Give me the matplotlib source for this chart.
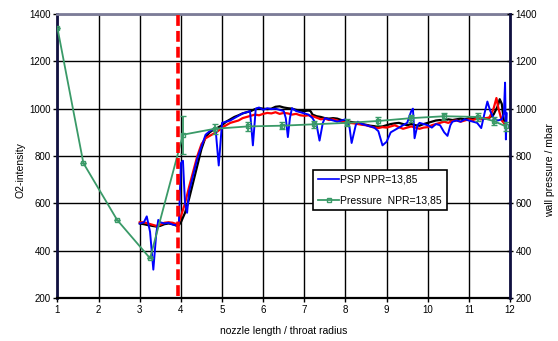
import matplotlib.pyplot as plt
from matplotlib.lines import Line2D

plt.rcParams['font.family'] = ['Liberation Sans', 'DejaVu Sans']

# pressure taps (wall pressure / mbar)
p_x = [1.0, 1.63, 2.45, 3.25, 4.05, 4.82, 5.63, 6.45, 7.23, 8.03, 8.8, 9.6, 10.4, 11.23, 11.6, 11.9]
p_y = [1340, 770, 530, 368, 890, 915, 925, 928, 934, 940, 948, 960, 968, 965, 948, 925]
p_err = [0, 0, 0, 0, 80, 20, 18, 15, 15, 15, 15, 15, 15, 15, 15, 20]

# PSP NPR=13,85 (blue)
psp_x = [3.0, 3.1, 3.17, 3.25, 3.33, 3.4, 3.45, 3.5, 3.6, 3.7, 3.8, 3.9, 3.95, 4.0, 4.05, 4.1,
         4.15, 4.2, 4.3, 4.4, 4.5, 4.6, 4.7, 4.8, 4.85, 4.92, 5.0, 5.1, 5.2, 5.3, 5.4, 5.5,
         5.6, 5.68, 5.75, 5.82, 5.9, 6.0, 6.1, 6.2, 6.3, 6.4, 6.5, 6.55, 6.6, 6.65, 6.7, 6.8,
         6.9, 7.0, 7.1, 7.2, 7.3, 7.37, 7.45, 7.5, 7.6, 7.7, 7.8, 7.9, 8.0, 8.1, 8.15, 8.25,
         8.3, 8.4, 8.5, 8.6, 8.7, 8.8, 8.9, 9.0, 9.1, 9.2, 9.3, 9.4, 9.5, 9.6, 9.64, 9.68,
         9.75, 9.8, 9.9, 10.0, 10.1, 10.2, 10.3, 10.4, 10.48, 10.55, 10.6, 10.7, 10.8, 10.9, 11.0, 11.1,
         11.2, 11.3, 11.38, 11.45, 11.52, 11.6, 11.7, 11.8, 11.85, 11.88, 11.9, 11.92]
psp_y = [515, 520, 545, 480, 320, 470, 530, 520, 515, 518, 510, 508, 510, 770, 780, 600,
         560, 650, 720, 790, 840, 890, 905, 915, 900, 760, 940, 945, 950, 960, 970, 980,
         985, 990, 845, 1000, 1005, 995, 1002, 998, 1000, 995, 990, 960, 880, 960, 1002, 990,
         985, 980, 975, 960, 930, 865, 940, 960, 955, 950, 945, 950, 955, 920, 855, 930,
         945, 935, 930, 925, 920, 905, 845, 860, 900, 910, 920, 930, 940, 990, 1000, 875,
         930, 940, 935, 930, 920, 935, 930, 900, 885, 930, 945, 950, 945, 955, 950, 945,
         940, 918, 980, 1030, 990, 960, 950, 955, 980, 1110, 870, 980]

# second PSP run (black)
k_x = [3.0, 3.1, 3.2, 3.3, 3.4, 3.5, 3.6, 3.7, 3.8, 3.9, 3.95, 4.0, 4.1, 4.2, 4.3, 4.4,
       4.5, 4.6, 4.7, 4.8, 4.9, 5.0, 5.1, 5.2, 5.3, 5.4, 5.5, 5.6, 5.7, 5.8, 5.9, 6.0,
       6.1, 6.2, 6.3, 6.4, 6.5, 6.6, 6.7, 6.8, 6.9, 7.0, 7.1, 7.15, 7.2, 7.3, 7.4, 7.5,
       7.6, 7.7, 7.8, 7.9, 8.0, 8.1, 8.2, 8.3, 8.4, 8.5, 8.6, 8.7, 8.8, 8.9, 9.0, 9.1,
       9.2, 9.3, 9.4, 9.5, 9.6, 9.7, 9.8, 9.9, 10.0, 10.1, 10.2, 10.3, 10.4, 10.5, 10.6, 10.7,
       10.8, 10.9, 11.0, 11.1, 11.2, 11.3, 11.4, 11.5, 11.6, 11.7, 11.75, 11.8, 11.85, 11.9]
k_y = [515, 512, 508, 505, 502, 505, 512, 515, 512, 505, 508, 520, 560, 620, 690, 760,
       830, 880, 900, 912, 920, 930, 945, 955, 965, 972, 980, 985, 990, 998, 1002, 1000,
       998, 1000, 1008, 1010, 1005, 1002, 1000, 995, 992, 990, 992, 990, 975, 968, 965, 960,
       958, 960, 958, 952, 950, 945, 942, 940, 935, 932, 928, 926, 925, 925, 930, 935,
       938, 940, 935, 930, 935, 930, 928, 935, 940, 945, 950, 952, 948, 955, 952, 955,
       958, 955, 960, 958, 962, 960, 958, 962, 975, 1010, 1040, 1020, 950, 940]

# third PSP run (red)
r_x = [3.0, 3.1, 3.2, 3.3, 3.4, 3.5, 3.6, 3.7, 3.8, 3.9, 3.95, 4.0, 4.1, 4.2, 4.3, 4.4,
       4.5, 4.6, 4.7, 4.8, 4.9, 5.0, 5.1, 5.2, 5.3, 5.4, 5.5, 5.6, 5.7, 5.8, 5.9, 6.0,
       6.1, 6.2, 6.3, 6.4, 6.5, 6.6, 6.7, 6.8, 6.9, 7.0, 7.1, 7.2, 7.3, 7.4, 7.5, 7.6,
       7.7, 7.8, 7.9, 8.0, 8.1, 8.2, 8.3, 8.4, 8.5, 8.6, 8.7, 8.8, 8.9, 9.0, 9.1, 9.2,
       9.3, 9.4, 9.5, 9.6, 9.7, 9.8, 9.9, 10.0, 10.1, 10.2, 10.3, 10.4, 10.5, 10.6, 10.7, 10.8,
       10.9, 11.0, 11.1, 11.2, 11.3, 11.4, 11.5, 11.6, 11.67, 11.72, 11.8, 11.85, 11.9]
r_y = [520, 520, 515, 510, 505, 510, 518, 520, 518, 512, 520, 545, 600, 670, 735, 800,
       850, 875, 885, 895, 905, 920, 930, 940, 945, 950, 960, 965, 970, 975, 972, 978,
       982, 980, 985, 978, 982, 980, 975, 978, 972, 970, 972, 968, 962, 955, 958, 952,
       955, 950, 945, 942, 940, 938, 935, 932, 930, 925, 920, 918, 922, 920, 925, 930,
       922, 915, 920, 925, 920, 915, 920, 922, 930, 935, 940, 945, 940, 948, 950, 945,
       950, 955, 952, 958, 955, 960, 962, 1000, 1045, 1000, 950, 940, 920]

throat_x = 3.93
x_ticks = list(range(1, 13))
y_ticks = [200, 400, 600, 800, 1000, 1200, 1400]

GREEN = '#3a9a68'

fig = plt.figure(figsize=(5.58, 3.41), dpi=100)
ax = fig.add_axes([0.103, 0.126, 0.811, 0.833])

ax.plot(k_x, k_y, color='black', lw=1.6, zorder=3)
ax.plot(r_x, r_y, color='red', lw=1.6, zorder=4)
ax.plot(psp_x, psp_y, color='blue', lw=1.4, zorder=5)
ax.errorbar(p_x, p_y, yerr=p_err, color=GREEN, lw=1.3, marker='s', ms=3.5,
            mfc='none', mec=GREEN, mew=1.0, capsize=2.5, elinewidth=1.3, zorder=6)
ax.plot([throat_x, throat_x], [210, 1400], color='red', lw=2.6, ls=(0, (3, 1.4)),
        zorder=7, clip_on=False)

ax.set_xlim(1, 12)
ax.set_ylim(200, 1400)
ax.set_xticks(x_ticks)
ax.set_yticks(y_ticks)
ax.grid(True, color='black', lw=1.0)
ax.set_axisbelow(True)
ax.tick_params(labelsize=7, length=3, width=1, pad=2)
ax.set_xlabel('nozzle length / throat radius', fontsize=7.5, labelpad=8)

ax.spines['top'].set_color('#7c7c98')
ax.spines['top'].set_linewidth(2)
ax.spines['left'].set_color('#101040')
ax.spines['left'].set_linewidth(2)
ax.spines['bottom'].set_linewidth(1.6)

ax2 = ax.twinx()
ax2.set_ylim(200, 1400)
ax2.set_yticks(y_ticks)
ax2.tick_params(labelsize=7, length=4, width=1, pad=2, direction='inout')
ax2.spines['right'].set_color('#101040')
ax2.spines['right'].set_linewidth(2)
for s in ['top', 'left', 'bottom']:
    ax2.spines[s].set_visible(False)

fig.text(20 / 558, 0.5, 'O2-intensity', rotation=90, fontsize=7.5, ha='center', va='center')
fig.text(550 / 558, 0.5, 'wall pressure / mbar', rotation=90, fontsize=7.5, ha='center', va='center')

handles = [Line2D([], [], color='blue', lw=1.2),
           Line2D([], [], color=GREEN, lw=1.3, marker='s', ms=3.5, mfc='none', mec=GREEN)]
labels = ['PSP NPR=13,85', 'Pressure  NPR=13,85']
leg = ax.legend(handles, labels, loc='upper left', bbox_to_anchor=(0.565, 0.452), fontsize=7.5,
                frameon=True, fancybox=False, edgecolor='black', framealpha=1,
                handlelength=2.0, handletextpad=0.1, borderpad=0.5, borderaxespad=0,
                labelspacing=1.0)
leg.get_frame().set_linewidth(1.2)
leg.set_zorder(10)

fig.savefig('out.png', dpi=100)
